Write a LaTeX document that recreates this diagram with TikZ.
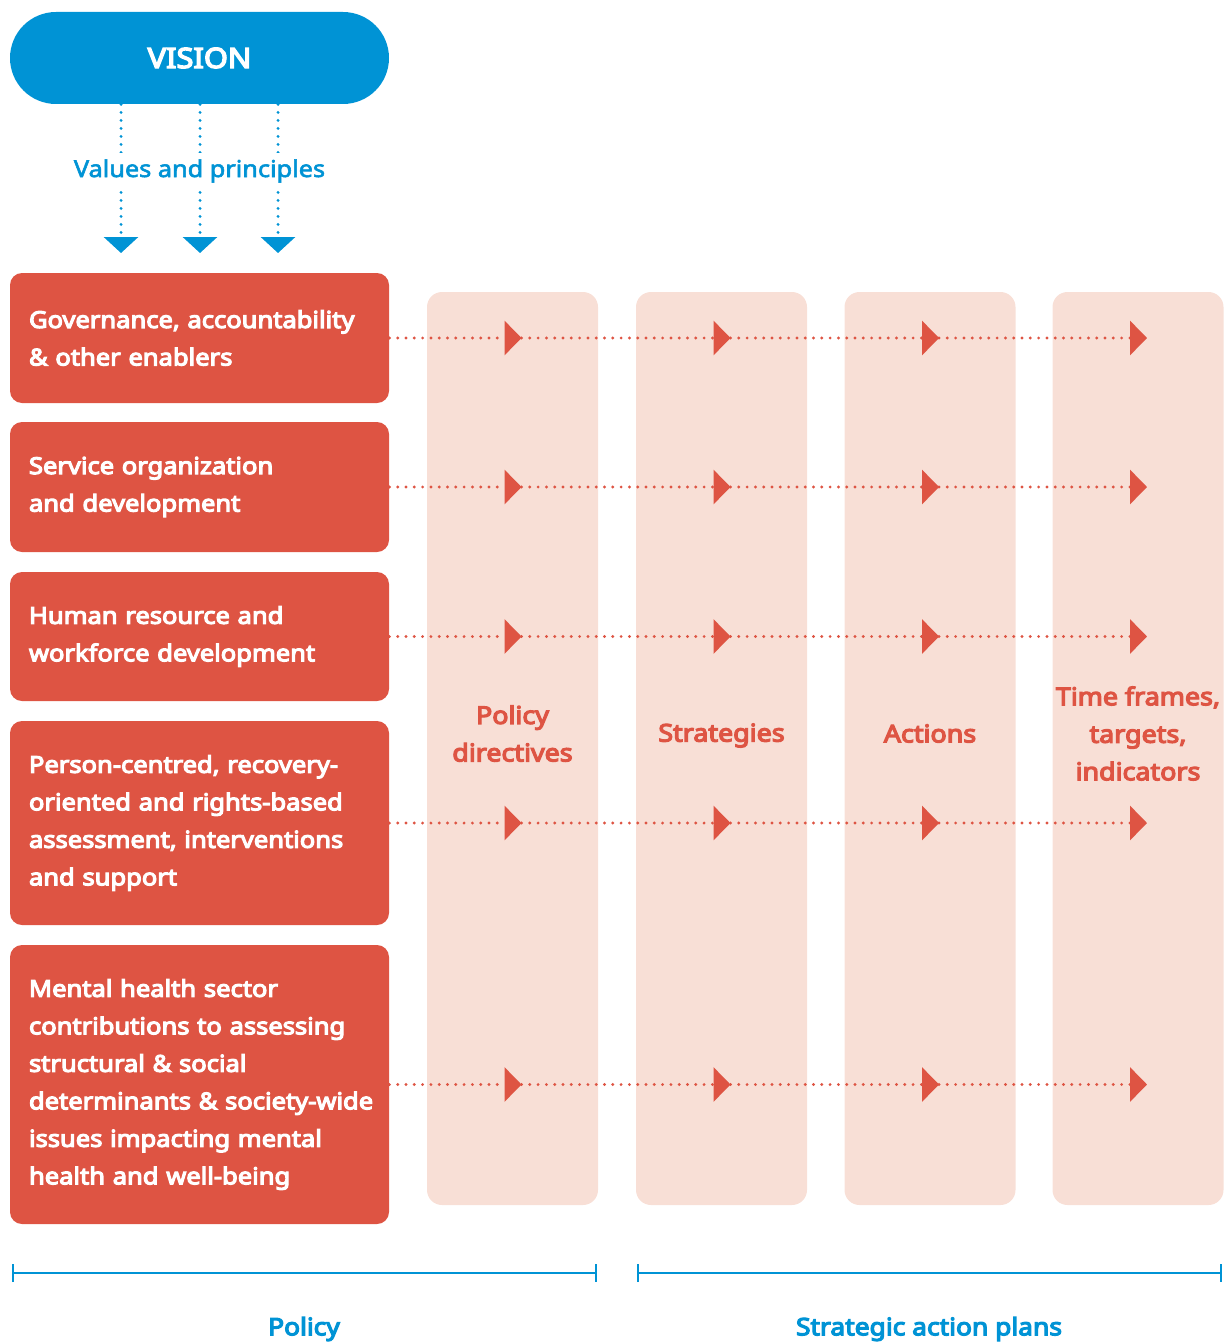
\documentclass[tikz,border=0pt]{standalone}
\usepackage{fontspec}
\setmainfont{Noto Sans}
\newfontfamily\semibold{Noto Sans}[FakeBold=5, FakeStretch=1.1]
\newfontfamily\medium{Noto Sans}[FakeBold=2.5, FakeStretch=1.09]
\usetikzlibrary{arrows.meta}

\definecolor{visblue}{RGB}{0,147,213}
\definecolor{boxred}{RGB}{222,84,67}
\definecolor{colpink}{RGB}{248,223,214}

\tikzset{
    vision/.style={rectangle, rounded corners=23pt, fill=visblue, text=white,
        minimum width=189.5pt, minimum height=46pt,
        font=\semibold\fontsize{14}{16}\selectfont},
    area/.style={rectangle, rounded corners=6pt, fill=boxred, text=white,
        text width=170.5pt, align=left, inner xsep=9.5pt, inner ysep=0pt,
        font=\semibold\fontsize{11.6}{18.75}\selectfont},
    column/.style={rectangle, rounded corners=7.5pt, fill=colpink,
        minimum width=85.5pt, minimum height=456.5pt},
    collabel/.style={text=boxred, align=center,
        font=\semibold\fontsize{12.2}{18.75}\selectfont},
    flow/.style={boxred, line width=1.6pt, line cap=round,
        dash pattern=on 0pt off 4.15pt, -{Triangle[length=8.5pt,width=17pt]}},
    down/.style={visblue, line width=1.6pt, line cap=round,
        dash pattern=on 0pt off 4pt, -{Triangle[length=8pt,width=17pt]}},
    span/.style={visblue, line width=1.2pt, {Bar[width=9pt]}-{Bar[width=9pt]}},
    spanlabel/.style={text=visblue, font=\semibold\fontsize{12}{14}\selectfont}
}

\begin{document}
\begin{tikzpicture}[x=0.5pt,y=-0.5pt]
        \useasboundingbox (0,0) rectangle (1226,1343);

        % vision and values
        \node[vision] (vision) at (199.5,58) {VISION};
        \coordinate (t1) at (121,253);
        \coordinate (t2) at (200,253);
        \coordinate (t3) at (278,253);
        \foreach \t in {t1,t2,t3}
            \draw[down] (vision.south -| \t) -- (\t);
        \node[fill=white, text=visblue, inner xsep=1pt, inner ysep=3pt,
            font=\medium\fontsize{11.6}{14}\selectfont] (values) at (199.5,171) {Values and principles};

        % columns
        \node[column] (col1) at (512.5,748.5) {};
        \node[column] (col2) at (721.5,748.5) {};
        \node[column] (col3) at (930,748.5) {};
        \node[column] (col4) at (1138,748.5) {};
        \node[collabel] (pdir) at ([yshift=7.5pt]col1.center) {Policy\\directives};
        \node[collabel] (strat) at ([yshift=6.5pt]col2.center) {Strategies};
        \node[collabel] (act) at ([yshift=7.5pt]col3.center) {Actions};
        \node[collabel] (time) at ([yshift=7.5pt]col4.center) {Time frames,\\targets,\\indicators};

        % areas
        \node[area, minimum height=65pt] (gov) at (199.5,338) {Governance, accountability\\\& other enablers};
        \node[area, minimum height=65pt] (serv) at (199.5,487) {Service organization\\and development};
        \node[area, minimum height=64.5pt] (hr) at (199.5,636.5) {Human resource and\\workforce development};
        \node[area, minimum height=102pt] (pers) at (199.5,823) {Person-centred, recovery-\\oriented and rights-based\\assessment, interventions\\and support};
        \node[area, minimum height=139.5pt] (ment) at (199.5,1084.5) {Mental health sector\\contributions to assessing\\structural \& social\\\mbox{determinants \& society-wide}\\issues impacting mental\\health and well-being};

        % flows
        \foreach \b in {gov,serv,hr,pers,ment}{
            \foreach \c [count=\i] in {col1,col2,col3,col4}
                \coordinate (\b\i) at ([xshift=4.5pt]\c.center |- \b.east);
            \draw[flow] (\b.east) -- (\b1);
            \draw[flow] (\b1) -- (\b2);
            \draw[flow] (\b2) -- (\b3);
            \draw[flow] (\b3) -- (\b4);
        }

        % spans
        \coordinate (p1) at (12,1273);
        \coordinate (p2) at (597,1273);
        \coordinate (s1) at (637,1273);
        \coordinate (s2) at (1222,1273);
        \draw[span] (p1) -- (p2);
        \draw[span] (s1) -- (s2);
        \node[spanlabel] (policy) at (304,1329) {Policy};
        \node[spanlabel] (plans) at (929,1329) {Strategic action plans};

    \end{tikzpicture}
\end{document}
